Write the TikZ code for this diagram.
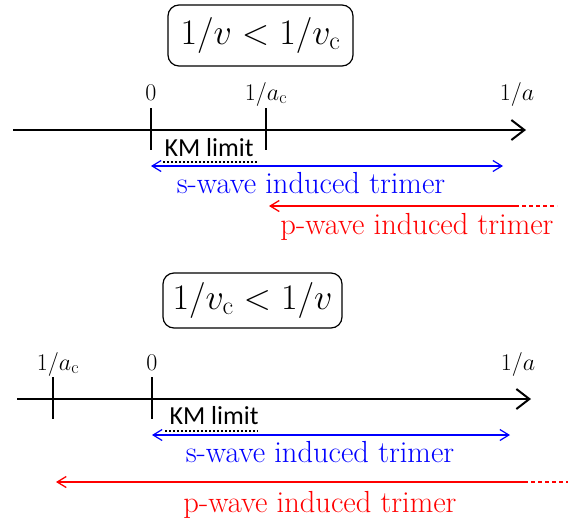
\RequirePackage{fix-cm}
\documentclass[tikz,border=0pt]{standalone}
\usepackage{fontspec}
\newfontfamily\kmfont{Carlito}
\usetikzlibrary{arrows.meta}
\DeclareMathSizes{24}{24}{18}{14}
\DeclareMathSizes{36}{36}{26}{19}
\begin{document}
\begin{tikzpicture}[x=1pt,y=-1pt,
  axisline/.style={line width=2.4pt,-{Straight Barb[length=13pt,width=20pt,line width=2pt]}},
  tickline/.style={line width=1.7pt},
  condbox/.style={draw,line width=1.2pt,rounded corners=11pt,inner sep=0pt,font=\fontsize{36}{42}\selectfont},
  axlabel/.style={inner sep=0pt,anchor=base,font=\fontsize{24}{28}\selectfont},
  kmlabel/.style={inner sep=0pt,anchor=base,font=\kmfont\fontsize{26}{28}\selectfont},
  kmdots/.style={line width=1.1pt,dash pattern=on 2pt off 2pt},
  sarrow/.style={blue,line width=1.2pt,{Straight Barb[length=9pt,width=11pt,line width=1.2pt]}-{Straight Barb[length=9pt,width=11pt,line width=1.2pt]}},
  parrow/.style={red,line width=1.3pt,{Straight Barb[length=9pt,width=11pt,line width=1.3pt]}-},
  pdash/.style={red,line width=1.3pt,dash pattern=on 4pt off 3pt},
  wavetext/.style={inner sep=0pt,anchor=base,font=\fontsize{30.5}{33}\selectfont},
]
\useasboundingbox (0,0) rectangle (569,517);

% ---------------- top panel ----------------
\node[condbox,minimum width=185pt,minimum height=61pt] (boxA) at (260.5,35.5) {$1/v<1/v_{\mathrm{c}}$};

\coordinate (axAs) at (13,130);
\coordinate (axAe) at (526,130);
\draw[axisline] (axAs) -- (axAe);

\coordinate (tA0t) at (151,108);
\coordinate (tA0b) at (151,150);
\coordinate (tAct) at (266,108);
\coordinate (tAcb) at (266,150);
\draw[tickline] (tA0t) -- (tA0b);
\draw[tickline] (tAct) -- (tAcb);

\node[axlabel] (lA0) at (151,100) {$0$};
\node[axlabel] (lAc) at (266,100) {$1/a_{\mathrm{c}}$};
\node[axlabel] (lAa) at (517,100) {$1/a$};

\node[kmlabel] (kmA) at (209,156) {KM limit};
\coordinate (dA1) at (163,162);
\coordinate (dA2) at (258,162);
\draw[kmdots] (dA1) -- (dA2);

\coordinate (sA1) at (151,166);
\coordinate (sA2) at (503,166);
\draw[sarrow] (sA1) -- (sA2);
\node[wavetext,blue] (sAt) at (311,193) {s-wave induced trimer};

\coordinate (pA1) at (269,206);
\coordinate (pA2) at (515,206);
\coordinate (pA3) at (557,206);
\draw[parrow] (pA1) -- (pA2);
\draw[pdash] (pA2) -- (pA3);
\node[wavetext,red] (pAt) at (417,234) {p-wave induced trimer};

% ---------------- bottom panel ----------------
\node[condbox,minimum width=179pt,minimum height=55pt] (boxB) at (252.5,300.5) {$1/v_{\mathrm{c}}<1/v$};

\coordinate (axBs) at (17,399);
\coordinate (axBe) at (531,399);
\draw[axisline] (axBs) -- (axBe);

\coordinate (tBct) at (53,377);
\coordinate (tBcb) at (53,419);
\coordinate (tB0t) at (152,377);
\coordinate (tB0b) at (152,419);
\draw[tickline] (tBct) -- (tBcb);
\draw[tickline] (tB0t) -- (tB0b);

\node[axlabel] (lBc) at (58,370) {$1/a_{\mathrm{c}}$};
\node[axlabel] (lB0) at (152,370) {$0$};
\node[axlabel] (lBa) at (518,370) {$1/a$};

\node[kmlabel] (kmB) at (214,424) {KM limit};
\coordinate (dB1) at (165,431);
\coordinate (dB2) at (258,431);
\draw[kmdots] (dB1) -- (dB2);

\coordinate (sB1) at (152,435);
\coordinate (sB2) at (510,435);
\draw[sarrow] (sB1) -- (sB2);
\node[wavetext,blue] (sBt) at (320,462) {s-wave induced trimer};

\coordinate (pB1) at (56,482);
\coordinate (pB2) at (524,482);
\coordinate (pB3) at (568,482);
\draw[parrow] (pB1) -- (pB2);
\draw[pdash] (pB2) -- (pB3);
\node[wavetext,red] (pBt) at (320,512) {p-wave induced trimer};
\end{tikzpicture}
\end{document}
